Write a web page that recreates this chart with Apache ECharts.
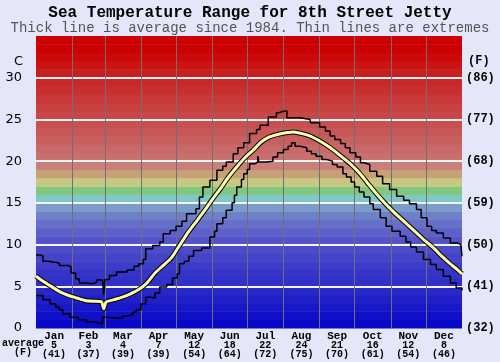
<!DOCTYPE html>
<html>
<head>
<meta charset="utf-8">
<script src="https://cdn.jsdelivr.net/npm/echarts@6/dist/echarts.min.js"></script>
<style>
  html, body { margin: 0; padding: 0; background: #e6e6fa; }
  #chart { width: 500px; height: 362px; }
</style>
</head>
<body>
<div id="chart"></div>
<script>
// --- DATA ---
const monthNames = ['Jan', 'Feb', 'Mar', 'Apr', 'May', 'Jun', 'Jul', 'Aug', 'Sep', 'Oct', 'Nov', 'Dec'];
const monthAvgC = ['5', '3', '4', '7', '12', '18', '22', '24', '21', '16', '12', '8'];
const monthAvgF = ['(41)', '(37)', '(39)', '(39)', '(54)', '(64)', '(72)', '(75)', '(70)', '(61)', '(54)', '(46)'];
const monthEdges = [31, 59, 90, 120, 151, 181, 212, 243, 273, 304, 334];
const monthMids = [15.5, 45, 74.5, 105, 135.5, 166, 196.5, 227.5, 258, 288.5, 319, 349.5];
const celsiusTicks = [0, 5, 10, 15, 20, 25, 30];
const gridTicks = [5, 10, 15, 20, 25, 30];

// average temperature [day of year, deg C]
const avgTemp = [
  [0, 6.2], [7, 5.5], [14, 4.9], [21, 4.3], [28, 3.9], [35, 3.6], [42, 3.3], [49, 3.2],
  [56, 3.15], [58, 2.3], [60, 3.1], [67, 3.4], [74, 3.7], [81, 4.1], [88, 4.6], [95, 5.4],
  [102, 6.6], [109, 7.5], [116, 8.4], [123, 9.9], [130, 11.4], [137, 12.7], [144, 14.0],
  [151, 15.4], [158, 16.7], [165, 18.1], [172, 19.3], [179, 20.4], [186, 21.3], [193, 22.3],
  [200, 22.9], [207, 23.2], [214, 23.4], [221, 23.5], [228, 23.3], [235, 23.0], [242, 22.5],
  [249, 21.9], [256, 21.2], [263, 20.4], [270, 19.6], [277, 18.6], [284, 17.4], [291, 16.2],
  [298, 15.1], [305, 14.1], [312, 13.2], [319, 12.3], [326, 11.4], [333, 10.5], [340, 9.7],
  [347, 8.7], [354, 7.8], [361, 7.0], [365, 6.5]
];

// highest recorded [day, deg C]
const maxTemp = [
  [0, 8.75], [4, 8.6], [6, 8.0], [11, 7.8], [20, 7.5], [28, 7.3], [30, 6.6], [34, 5.9],
  [37, 5.4], [43, 5.3], [48, 5.5], [52, 5.75], [57, 5.9], [58, 4.0], [59, 5.8], [63, 6.3],
  [69, 6.7], [78, 6.95], [84, 7.4], [88, 7.7], [92, 8.2], [94, 9.5], [100, 9.9], [106, 10.3],
  [109, 11.3], [115, 11.7], [120, 12.2], [125, 12.8], [129, 13.7], [137, 14.3], [140, 15.7],
  [143, 16.9], [149, 17.7], [155, 18.9], [160, 19.4], [163, 19.9], [169, 20.9], [173, 21.6],
  [178, 22.2], [183, 23.3], [189, 23.8], [192, 24.3], [199, 25.3], [206, 25.8], [208, 26.0],
  [213, 26.0], [215, 25.2], [226, 25.0], [235, 24.6], [243, 24.1], [248, 23.6], [252, 23.0],
  [256, 22.6], [261, 22.1], [265, 21.6], [269, 21.0], [274, 20.5], [278, 19.8], [281, 19.6],
  [286, 18.8], [292, 18.2], [297, 17.3], [303, 16.6], [309, 15.8], [315, 15.3], [320, 14.9],
  [326, 14.2], [330, 13.2], [335, 12.2], [339, 11.7], [343, 11.4], [349, 10.8], [355, 10.2],
  [361, 10.0], [364, 9.8], [365, 8.6]
];

// lowest recorded [day, deg C]
const minTemp = [
  [0, 3.9], [6, 3.4], [12, 2.9], [17, 2.5], [20, 2.2], [23, 1.7], [29, 1.3], [36, 1.0],
  [43, 0.75], [50, 0.6], [54, 0.55], [57, 1.3], [62, 1.2], [68, 1.15], [74, 1.4], [77, 1.6],
  [83, 1.9], [86, 2.2], [90, 2.9], [94, 3.7], [98, 3.6], [102, 4.2], [106, 4.9], [112, 5.2],
  [117, 6.0], [121, 6.5], [123, 7.7], [127, 8.0], [131, 8.6], [135, 9.3], [142, 9.6],
  [149, 10.9], [153, 11.6], [155, 12.5], [160, 13.2], [163, 14.1], [168, 15.0], [170, 15.9],
  [172, 16.9], [176, 17.8], [178, 18.5], [181, 19.0], [183, 19.7], [188, 19.9], [190, 20.6],
  [191, 19.9], [197, 20.0], [203, 20.5], [207, 21.0], [212, 21.4], [216, 21.8], [219, 22.2],
  [222, 21.8], [226, 21.6], [232, 21.2], [236, 20.9], [240, 20.6], [245, 20.2], [249, 20.0],
  [254, 19.6], [258, 19.3], [263, 18.5], [266, 18.1], [270, 17.5], [273, 16.9], [277, 16.3],
  [281, 15.7], [286, 14.9], [289, 14.2], [295, 13.2], [300, 12.2], [305, 11.6], [312, 11.0],
  [317, 10.3], [321, 9.7], [326, 9.1], [332, 8.2], [338, 7.6], [343, 7.0], [349, 6.2],
  [355, 5.4], [360, 4.8], [365, 4.5]
];

// colour of each 1 degree band, from 0-1 C upwards
const bandColors = [
  '#0808c8', '#1010c8', '#1818c8', '#2020c8', '#2828c8', '#3030c8', '#3434c8', '#3c3cc8',
  '#4444c8', '#4c4cc8', '#5454c8', '#5c60c8', '#6670c8', '#7080c8', '#7a9cc8', '#80c8c8',
  '#80c880', '#c8c880', '#c8a078', '#c88078', '#c87070', '#c86868', '#c86060', '#c85858',
  '#c85050', '#c84848', '#c84040', '#c83838', '#c83030', '#c82828', '#c82020', '#cc1414',
  '#cc0808', '#cc0000', '#cc0000'
];

const X_MAX = 365;
const Y_MAX = 35;
const mono = '"Liberation Mono", "Courier New", monospace';

const chart = echarts.init(document.getElementById('chart'));

const option = {
  backgroundColor: '#e6e6fa',
  animation: false,
  title: [{
    text: 'Sea Temperature Range for 8th Street Jetty',
    left: 'center', top: 5, padding: 0,
    textStyle: { fontFamily: mono, fontSize: 16, fontWeight: 'bold', color: '#000' }
  }, {
    text: 'Thick line is average since 1984. Thin lines are extremes',
    left: 'center', top: 21, padding: 0,
    textStyle: { fontFamily: mono, fontSize: 14, fontWeight: 'normal', color: '#555' }
  }],
  grid: { left: 36, right: 38, top: 36, bottom: 34 },
  xAxis: {
    type: 'value', min: 0, max: X_MAX,
    axisLine: { show: false },
    axisTick: { show: false, customValues: monthEdges },
    splitLine: { show: true, lineStyle: { color: '#707070', width: 1 } },
    axisLabel: {
      customValues: monthMids, margin: 3, lineHeight: 9,
      formatter: (v) => {
        const i = monthMids.indexOf(v);
        return `{m|${monthNames[i]}}\n{n|${monthAvgC[i]}}\n{n|${monthAvgF[i]}}`;
      },
      rich: {
        m: { fontFamily: mono, fontSize: 11, fontWeight: 'bold', color: '#000', lineHeight: 10 },
        n: { fontFamily: mono, fontSize: 10, fontWeight: 'bold', color: '#000', lineHeight: 9 }
      }
    }
  },
  yAxis: [{
    type: 'value', min: 0, max: Y_MAX,
    axisLine: { show: false },
    axisTick: { show: false, customValues: gridTicks },
    splitLine: { show: true, lineStyle: { color: '#f4f4f4', width: 2 } },
    axisLabel: { customValues: celsiusTicks, margin: 14, fontFamily: '"DejaVu Sans"', fontSize: 13, color: '#000' }
  }, {
    type: 'value', min: 0, max: Y_MAX, position: 'right',
    axisLine: { show: false },
    axisTick: { show: false },
    splitLine: { show: false },
    axisLabel: {
      customValues: celsiusTicks, margin: 4, fontFamily: mono, fontSize: 12, fontWeight: 'bold', color: '#000',
      formatter: (v) => '(' + Math.round(v * 9 / 5 + 32) + ')'
    }
  }],
  graphic: [
    { type: 'text', left: 14, top: 55, style: { text: 'C', fontFamily: '"DejaVu Sans"', fontSize: 13, fill: '#000' } },
    { type: 'text', left: 468, top: 55, style: { text: '(F)', fontFamily: mono, fontSize: 12, fontWeight: 'bold', fill: '#000' } },
    { type: 'text', left: 2, top: 338, style: { text: 'average', fontFamily: mono, fontSize: 10, fontWeight: 'bold', fill: '#000' } },
    { type: 'text', left: 14, top: 347, style: { text: '(F)', fontFamily: mono, fontSize: 10, fontWeight: 'bold', fill: '#000' } }
  ],
  series: [
    {
      // coloured temperature bands behind the grid lines
      type: 'custom', z: -1, silent: true,
      data: bandColors.map((c, i) => [i, i + 1]),
      renderItem: (params, api) => {
        const lo = api.value(0), hi = api.value(1);
        const p0 = api.coord([0, hi]);
        const p1 = api.coord([X_MAX, lo]);
        return {
          type: 'rect',
          shape: { x: p0[0], y: p0[1], width: p1[0] - p0[0], height: p1[1] - p0[1] + 0.5 },
          style: { fill: bandColors[params.dataIndex] }
        };
      }
    },
    { type: 'line', data: maxTemp, step: 'end', symbol: 'none', lineStyle: { color: '#000', width: 1.5 }, z: 3 },
    { type: 'line', data: minTemp, step: 'end', symbol: 'none', lineStyle: { color: '#000', width: 1.5 }, z: 3 },
    { type: 'line', data: avgTemp, smooth: 0.2, symbol: 'none', lineStyle: { color: '#000', width: 5 }, z: 4 },
    { type: 'line', data: avgTemp, smooth: 0.2, symbol: 'none', lineStyle: { color: '#ffffb0', width: 3 }, z: 5 }
  ]
};
chart.setOption(option);
</script>
</body>
</html>
